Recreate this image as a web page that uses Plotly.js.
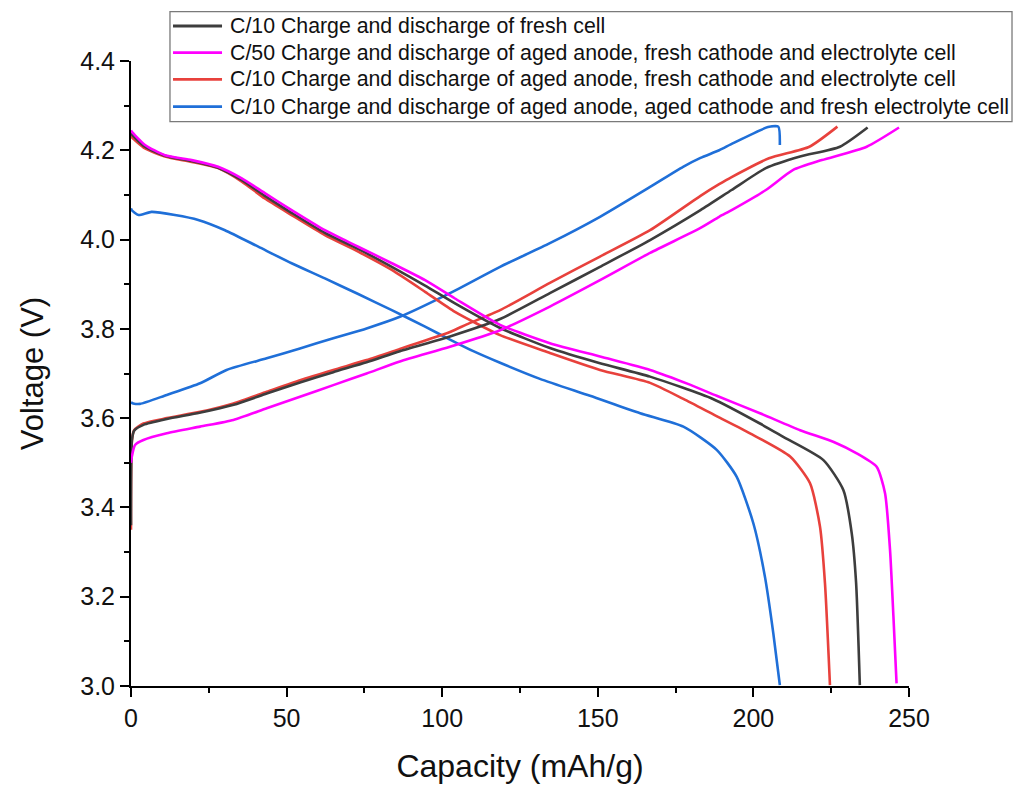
<!DOCTYPE html>
<html>
<head>
<meta charset="utf-8">
<script src="https://cdn.plot.ly/plotly-3.0.1.min.js"></script>
<style>html,body{margin:0;padding:0;background:#fff;}#chart{width:1015px;height:786px;}</style>
</head>
<body>
<div id="chart"></div>
<script>
// Series names
const seriesNames = [
  "C/10 Charge and discharge of fresh cell",
  "C/50 Charge and discharge of aged anode, fresh cathode and electrolyte cell",
  "C/10 Charge and discharge of aged anode, fresh cathode and electrolyte cell",
  "C/10 Charge and discharge of aged anode, aged cathode and fresh electrolyte cell"
];

// Fresh cell (C/10)
const freshChargeCap = [0, 0.3, 1, 4, 11.5, 22, 33, 43.6, 54.3, 65, 75.7, 86.4, 102.5, 118.6, 134.6, 150.7, 166.8, 183, 193, 204, 215, 227.8, 236.7];
const freshChargeV   = [3.36, 3.55, 3.572, 3.585, 3.598, 3.612, 3.630, 3.655, 3.680, 3.703, 3.725, 3.750, 3.783, 3.822, 3.880, 3.939, 3.999, 4.066, 4.111, 4.160, 4.186, 4.208, 4.251];
const freshDisCap = [0, 0.2, 4.5, 10.9, 19.5, 28, 35.6, 43, 51.6, 62.3, 73, 83.8, 94.5, 104.1, 118.6, 134.6, 150.7, 166.8, 187, 202.1, 209.6, 222.5, 228.9, 231.6, 233, 234.2];
const freshDisV   = [4.24, 4.236, 4.208, 4.188, 4.176, 4.161, 4.133, 4.098, 4.060, 4.015, 3.979, 3.939, 3.897, 3.857, 3.802, 3.757, 3.723, 3.693, 3.643, 3.588, 3.558, 3.506, 3.439, 3.342, 3.231, 3.002];

// Aged anode, fresh cathode & electrolyte (C/50)
const c50ChargeCap = [0, 0.3, 1.3, 4, 11.5, 22.2, 32.9, 43.6, 54.3, 65, 75.7, 86.4, 102.5, 118.6, 134.6, 150.7, 166.8, 183, 189, 193, 204, 212.8, 222, 236.4, 246.8];
const c50ChargeV   = [3.50, 3.515, 3.54, 3.551, 3.566, 3.581, 3.596, 3.622, 3.648, 3.674, 3.700, 3.727, 3.760, 3.797, 3.850, 3.909, 3.970, 4.026, 4.051, 4.066, 4.111, 4.156, 4.178, 4.208, 4.251];
const c50DisCap = [0, 0.2, 4.5, 10.9, 19.5, 28, 35.6, 43, 51.6, 62.3, 73, 83.8, 94.5, 104.1, 118.6, 134.6, 150.7, 166.8, 179.6, 188.2, 202.1, 215, 226, 233.2, 239.6, 242.3, 243.9, 245, 246];
const c50DisV   = [4.245, 4.242, 4.212, 4.189, 4.178, 4.163, 4.137, 4.104, 4.066, 4.021, 3.984, 3.947, 3.909, 3.868, 3.809, 3.768, 3.738, 3.708, 3.675, 3.650, 3.611, 3.573, 3.546, 3.521, 3.491, 3.432, 3.305, 3.155, 3.006];

// Aged anode, fresh cathode & electrolyte (C/10)
const agedAnodeChargeCap = [0, 0.3, 1, 4, 11.5, 22.2, 32.9, 43.6, 54.3, 65, 75.7, 86.4, 102.5, 107.9, 118.6, 134.6, 150.7, 166.8, 183, 189, 193, 205, 218, 227];
const agedAnodeChargeV   = [3.35, 3.55, 3.573, 3.588, 3.600, 3.614, 3.633, 3.659, 3.685, 3.708, 3.730, 3.755, 3.793, 3.810, 3.842, 3.903, 3.962, 4.021, 4.098, 4.124, 4.140, 4.182, 4.208, 4.253];
const agedAnodeDisCap = [0, 0.2, 4.5, 10.9, 19.5, 28, 35.6, 43, 51.6, 62.3, 73, 83.8, 94.5, 104.1, 118.6, 134.6, 150.7, 166.8, 177.5, 188, 198.9, 211.8, 218.2, 221.4, 223, 224.6];
const agedAnodeDisV   = [4.235, 4.23, 4.204, 4.186, 4.174, 4.16, 4.13, 4.092, 4.055, 4.01, 3.973, 3.932, 3.883, 3.838, 3.786, 3.746, 3.708, 3.679, 3.643, 3.605, 3.566, 3.514, 3.454, 3.357, 3.230, 3.002];

// Aged anode, aged cathode, fresh electrolyte (C/10)
const agedBothChargeCap = [0, 0.7, 2.9, 11.5, 22.2, 30.7, 43.6, 54.3, 65, 75.7, 86.4, 102.5, 118.6, 134.6, 150.7, 166.8, 177.4, 183, 189, 193.5, 204.7, 208, 208.5];
const agedBothChargeV   = [3.635, 3.633, 3.632, 3.652, 3.678, 3.708, 3.734, 3.756, 3.779, 3.801, 3.827, 3.880, 3.939, 3.992, 4.051, 4.118, 4.163, 4.183, 4.200, 4.216, 4.252, 4.253, 4.212];
const agedBothDisCap = [0, 0.2, 2.4, 6.6, 14.1, 21.6, 30.2, 40.9, 51.6, 62.3, 73, 83.8, 94.5, 102.5, 110, 118.6, 131.4, 147.5, 163.6, 177.5, 188.2, 194.6, 200, 203.7, 206.4, 208.5];
const agedBothDisV   = [4.07, 4.066, 4.055, 4.062, 4.055, 4.044, 4.021, 3.984, 3.947, 3.913, 3.878, 3.842, 3.805, 3.776, 3.750, 3.724, 3.688, 3.650, 3.611, 3.581, 3.529, 3.469, 3.364, 3.245, 3.118, 3.002];

// Tick labels
const xTickVals = [0, 50, 100, 150, 200, 250];
const yTickVals = [3.0, 3.2, 3.4, 3.6, 3.8, 4.0, 4.2, 4.4];

const colors = ["#3d3d3d", "#ff00ff", "#e8413c", "#1f6fd8"];

function joinCurves(c1, v1, c2, v2) {
  return { x: c1.concat([null], c2), y: v1.concat([null], v2) };
}

const curves = [
  joinCurves(freshChargeCap, freshChargeV, freshDisCap, freshDisV),
  joinCurves(c50ChargeCap, c50ChargeV, c50DisCap, c50DisV),
  joinCurves(agedAnodeChargeCap, agedAnodeChargeV, agedAnodeDisCap, agedAnodeDisV),
  joinCurves(agedBothChargeCap, agedBothChargeV, agedBothDisCap, agedBothDisV)
];

const drawOrder = [3, 2, 0, 1];
const traces = drawOrder.map(i => ({
  type: "scatter",
  mode: "lines",
  name: seriesNames[i],
  x: curves[i].x,
  y: curves[i].y,
  connectgaps: false,
  line: { color: colors[i], width: 2.6, shape: "spline", smoothing: 0.6 },
  showlegend: false
}));

const fontFam = "Liberation Sans, Arial, sans-serif";

// Legend box drawn in paper coordinates (placed above the plot like the original)
const legX0 = 0.0501, legX1 = 1.1324, legY0 = 0.9029, legY1 = 1.0789;
const legRowY = [1.056, 1.0133, 0.9707, 0.9269];
const legSampleX0 = 0.054, legSampleX1 = 0.117, legTextX = 0.1247;

const shapes = [{
  type: "rect", xref: "paper", yref: "paper",
  x0: legX0, x1: legX1, y0: legY0, y1: legY1,
  line: { color: "#7a7a7a", width: 1.3 }, fillcolor: "#ffffff", layer: "above"
}];
const annotations = [];
for (let i = 0; i < 4; i++) {
  shapes.push({
    type: "line", xref: "paper", yref: "paper",
    x0: legSampleX0, x1: legSampleX1, y0: legRowY[i], y1: legRowY[i],
    line: { color: colors[i], width: 2.8 }, layer: "above"
  });
  annotations.push({
    xref: "paper", yref: "paper", x: legTextX, y: legRowY[i],
    xanchor: "left", yanchor: "middle", showarrow: false,
    text: seriesNames[i],
    font: { family: fontFam, size: 21.3, color: "#111" }
  });
}

const layout = {
  width: 1015,
  height: 786,
  paper_bgcolor: "#ffffff",
  plot_bgcolor: "#ffffff",
  margin: { l: 131, r: 106, t: 61, b: 100, autoexpand: false },
  font: { family: fontFam, color: "#000" },
  showlegend: false,
  shapes: shapes,
  annotations: annotations,
  xaxis: {
    range: [0, 250],
    tickvals: xTickVals,
    ticks: "outside", ticklen: 9, tickwidth: 2, tickcolor: "#000",
    minor: { dtick: 25, tick0: 0, ticks: "outside", ticklen: 5, tickwidth: 2, tickcolor: "#000", showgrid: false },
    showline: true, linecolor: "#000", linewidth: 2,
    showgrid: false, zeroline: false,
    tickfont: { family: fontFam, size: 25, color: "#111" },
    title: { text: "Capacity (mAh/g)", font: { family: fontFam, size: 32, color: "#111" }, standoff: 24 }
  },
  yaxis: {
    range: [3.0, 4.4],
    tickvals: yTickVals,
    tickformat: ".1f",
    ticks: "outside", ticklen: 9, tickwidth: 2, tickcolor: "#000",
    minor: { dtick: 0.1, tick0: 3.0, ticks: "outside", ticklen: 5, tickwidth: 2, tickcolor: "#000", showgrid: false },
    showline: true, linecolor: "#000", linewidth: 2,
    showgrid: false, zeroline: false,
    tickfont: { family: fontFam, size: 25, color: "#111" },
    title: { text: "Voltage (V)", font: { family: fontFam, size: 31, color: "#111" }, standoff: 27 }
  }
};

Plotly.newPlot("chart", traces, layout, { displayModeBar: false, staticPlot: true });
</script>
</body>
</html>
